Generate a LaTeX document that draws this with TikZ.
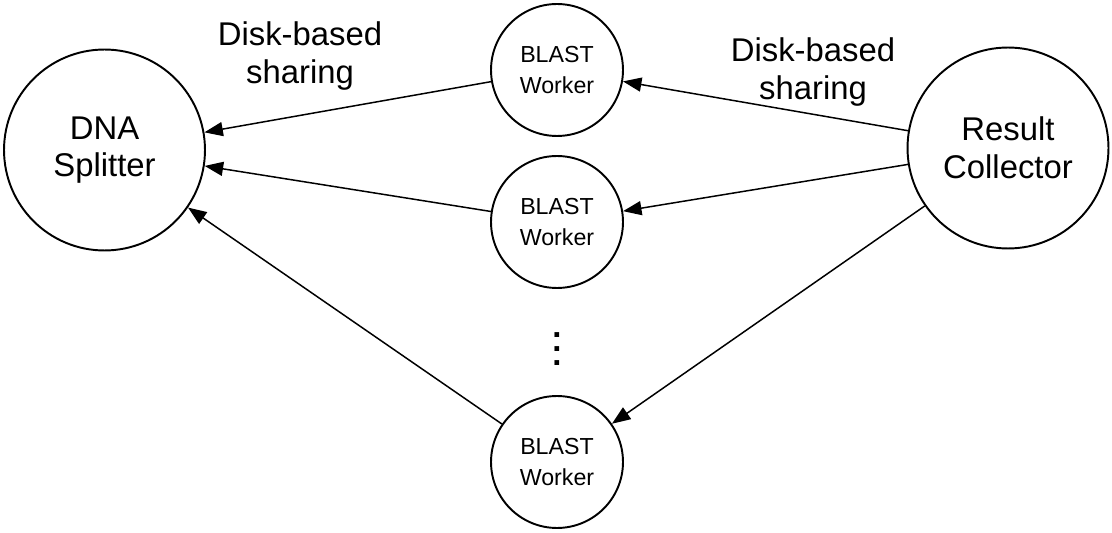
\documentclass[tikz,border=0pt]{standalone}
\usepackage{fontspec}
\setmainfont{Liberation Sans}
\usetikzlibrary{arrows.meta}

\newcommand{\threedots}{\vbox{\baselineskip=8pt\hbox{.}\hbox{.}\hbox{.}}}

\begin{document}
\begin{tikzpicture}[x=0.02cm,y=-0.02cm,-{Triangle[length=10.5pt,width=8pt]}]
	\tikzstyle{bignode}=[draw,shape=circle,line width=1.1pt,minimum size=4.02cm,inner sep=0pt,align=center,font=\fontsize{18.7}{21.5}\selectfont];
	\tikzstyle{worker}=[draw,shape=circle,line width=1.1pt,minimum size=2.64cm,inner sep=0pt,align=center,font=\fontsize{13.2}{17.6}\selectfont];
	\tikzstyle{note}=[align=center,inner sep=0pt,font=\fontsize{18.7}{22}\selectfont];
	\tikzstyle{every path}=[line width=0.85pt];
	\useasboundingbox (0, 0) rectangle (1112, 533);

	\node at (104.5, 150) (dna) [bignode] {DNA\\Splitter};
	\node at (1008, 148) (rc) [bignode] {Result\\Collector};
	\node at (557, 70)  (w1) [worker] {BLAST\\Worker};
	\node at (557, 222) (w2) [worker] {BLAST\\Worker};
	\node at (557, 462) (w3) [worker] {BLAST\\Worker};
	\node at (557, 349) (dots) [inner sep=0pt,font=\fontsize{18.7}{8}\selectfont\bfseries] {\threedots};

	\node at (300, 56) (share1) [note] {Disk-based\\sharing};
	\node at (813, 72) (share2) [note] {Disk-based\\sharing};

	\draw (w1) to (dna);
	\draw (w2) to (dna);
	\draw (w3) to (dna);
	\draw (rc) to (w1);
	\draw (rc) to (w2);
	\draw (rc) to (w3);
\end{tikzpicture}
\end{document}
